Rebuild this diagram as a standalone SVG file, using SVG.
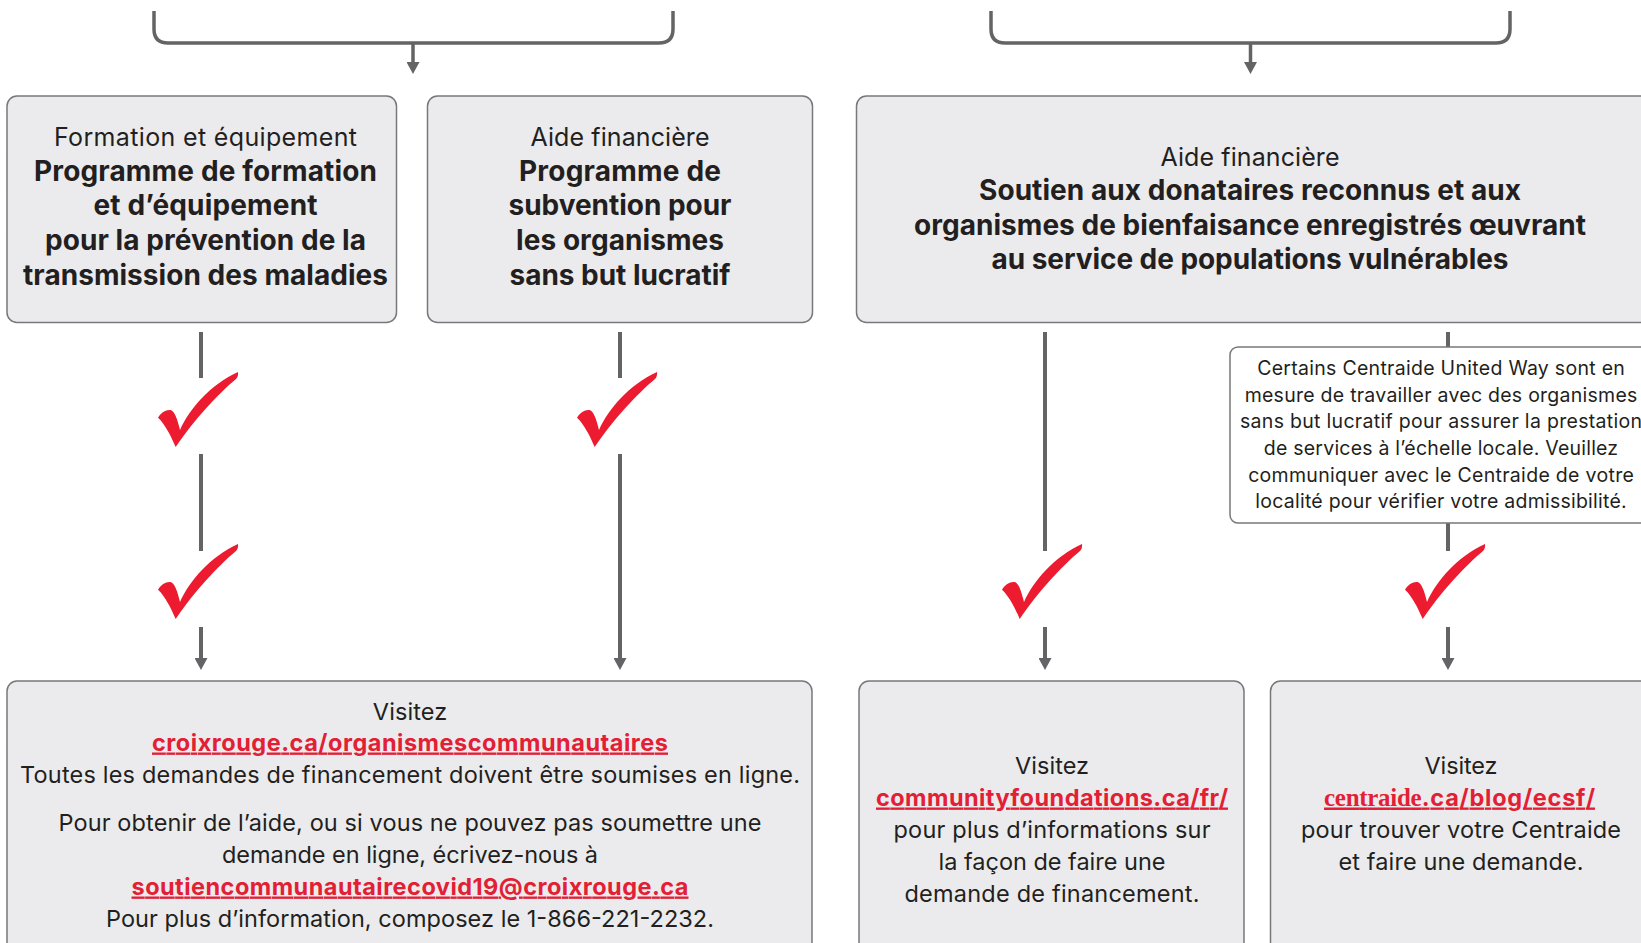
<svg xmlns="http://www.w3.org/2000/svg" width="1641" height="943" viewBox="0 0 1641 943">
<defs>
<style>
.box{fill:#ebebed;stroke:#77787b;stroke-width:1.5}
.note{fill:#ffffff;stroke:#77787b;stroke-width:1.5}
.ln{stroke:#646466;stroke-width:4;fill:none}
.br{stroke:#646466;stroke-width:3.5;fill:none}
.chk{fill:#ed1b2f}
text{font-family:Inter,"Liberation Sans",sans-serif;fill:#231f20;text-anchor:middle}
.t1{font-size:25px}
.tb{font-size:28px;font-weight:700}
.tn{font-size:19.5px}
.tx{font-size:23.5px}
.lk{font-size:23.5px;font-weight:700;fill:#e31f36;text-decoration:underline}
.lks{font-family:"Liberation Serif",serif;font-size:25px;font-weight:700;fill:#e31f36;text-decoration:underline;text-anchor:start}
</style>
<marker id="ah" viewBox="0 0 12 13" refX="6" refY="6.5" markerWidth="12" markerHeight="13" markerUnits="userSpaceOnUse" orient="auto">
<path d="M0,0 L12,6.5 L0,13 Z" fill="#646466"/>
</marker>
<path id="ck" d="M0,45.7 C3,40.5 8,37.5 12.5,38 C17,39 19.5,48 22,58 C32,36 52,13 80,0 C80.5,3 79.5,5.5 78,7 C60,22 36,48 17.7,75 C13,64 7,52 0,45.7 Z"/>
</defs>

<g id="connectors">
<path class="br" d="M154,11 V29 Q154,43 168,43 H659 Q673,43 673,29 V11"/>
<line class="ln" x1="413" y1="43" x2="413" y2="68" marker-end="url(#ah)" style="stroke-width:3.5"/>
<path class="br" d="M991,11 V29 Q991,43 1005,43 H1496 Q1510,43 1510,29 V11"/>
<line class="ln" x1="1250.5" y1="43" x2="1250.5" y2="68" marker-end="url(#ah)" style="stroke-width:3.5"/>

<line class="ln" x1="201" y1="332" x2="201" y2="378"/>
<line class="ln" x1="201" y1="454" x2="201" y2="551"/>
<line class="ln" x1="201" y1="627" x2="201" y2="664" marker-end="url(#ah)"/>

<line class="ln" x1="620" y1="332" x2="620" y2="378"/>
<line class="ln" x1="620" y1="454" x2="620" y2="664" marker-end="url(#ah)"/>

<line class="ln" x1="1045" y1="332" x2="1045" y2="551"/>
<line class="ln" x1="1045" y1="627" x2="1045" y2="664" marker-end="url(#ah)"/>

<line class="ln" x1="1448" y1="332" x2="1448" y2="347"/>
<line class="ln" x1="1448" y1="523" x2="1448" y2="551"/>
<line class="ln" x1="1448" y1="627" x2="1448" y2="664" marker-end="url(#ah)"/>

<use href="#ck" class="chk" x="158" y="372"/>
<use href="#ck" class="chk" x="158" y="544"/>
<use href="#ck" class="chk" x="577" y="372"/>
<use href="#ck" class="chk" x="1002" y="544"/>
<use href="#ck" class="chk" x="1405" y="544"/>
</g>

<g id="node-formation">
<rect class="box" x="7" y="96" width="389.5" height="226.5" rx="10"/>
<text class="t1" x="205.5" y="145.5" textLength="303">Formation et équipement</text>
<text class="tb" x="205.5" y="180.5" textLength="343">Programme de formation</text>
<text class="tb" x="205.5" y="215" textLength="224">et d’équipement</text>
<text class="tb" x="205.5" y="250" textLength="321">pour la prévention de la</text>
<text class="tb" x="205.5" y="284.5" textLength="365">transmission des maladies</text>
</g>

<g id="node-subvention">
<rect class="box" x="427.5" y="96" width="385" height="226.5" rx="10"/>
<text class="t1" x="620" y="145.5" textLength="179">Aide financière</text>
<text class="tb" x="620" y="180.5" textLength="202">Programme de</text>
<text class="tb" x="620" y="215" textLength="223">subvention pour</text>
<text class="tb" x="620" y="250" textLength="208">les organismes</text>
<text class="tb" x="620" y="284.5" textLength="221">sans but lucratif</text>
</g>

<g id="node-donataires">
<rect class="box" x="856.5" y="96" width="810" height="226.5" rx="10"/>
<text class="t1" x="1250" y="165.5" textLength="179">Aide financière</text>
<text class="tb" x="1250" y="200" textLength="542">Soutien aux donataires reconnus et aux</text>
<text class="tb" x="1250" y="234.5" textLength="672">organismes de bienfaisance enregistrés œuvrant</text>
<text class="tb" x="1250" y="269" textLength="517">au service de populations vulnérables</text>
</g>

<g id="node-note">
<rect class="note" x="1230" y="347" width="430" height="176" rx="8"/>
<text class="tn" x="1441" y="375" textLength="367.7">Certains Centraide United Way sont en</text>
<text class="tn" x="1441" y="401.7" textLength="392.7">mesure de travailler avec des organismes</text>
<text class="tn" x="1441" y="428.3" textLength="402">sans but lucratif pour assurer la prestation</text>
<text class="tn" x="1441" y="455" textLength="354.3">de services à l’échelle locale. Veuillez</text>
<text class="tn" x="1441" y="481.7" textLength="385.7">communiquer avec le Centraide de votre</text>
<text class="tn" x="1441" y="508.3" textLength="371.3">localité pour vérifier votre admissibilité.</text>
</g>

<g id="node-croixrouge">
<rect class="box" x="7" y="681" width="805" height="290" rx="10"/>
<text class="tx" x="410" y="719.5" textLength="74.3">Visitez</text>
<text class="lk" x="410" y="750.5" textLength="516">croixrouge.ca/organismescommunautaires</text>
<text class="tx" x="410" y="783" textLength="780">Toutes les demandes de financement doivent être soumises en ligne.</text>
<text class="tx" x="410" y="831" textLength="703">Pour obtenir de l’aide, ou si vous ne pouvez pas soumettre une</text>
<text class="tx" x="410" y="862.5" textLength="376">demande en ligne, écrivez-nous à</text>
<text class="lk" x="410" y="894.5" textLength="557">soutiencommunautairecovid19@croixrouge.ca</text>
<text class="tx" x="410" y="926.5" textLength="608">Pour plus d’information, composez le 1-866-221-2232.</text>
</g>

<g id="node-communityfoundations">
<rect class="box" x="859" y="681" width="385" height="290" rx="10"/>
<text class="tx" x="1052" y="773.5" textLength="74">Visitez</text>
<text class="lk" x="1052" y="805.5" textLength="352">communityfoundations.ca/fr/</text>
<text class="tx" x="1052" y="838" textLength="317">pour plus d’informations sur</text>
<text class="tx" x="1052" y="869.5" textLength="227">la façon de faire une</text>
<text class="tx" x="1052" y="901.5" textLength="295">demande de financement.</text>
</g>

<g id="node-centraide">
<rect class="box" x="1270.5" y="681" width="400" height="290" rx="10"/>
<text class="tx" x="1461" y="773.5" textLength="73">Visitez</text>
<text class="lks" x="1324" y="805.5" textLength="97.7">centraide</text>
<text class="lk" x="1421.7" y="805.5" textLength="173.3" style="text-anchor:start">.ca/blog/ecsf/</text>
<text class="tx" x="1461" y="838" textLength="320">pour trouver votre Centraide</text>
<text class="tx" x="1461" y="869.5" textLength="245">et faire une demande.</text>
</g>
</svg>
